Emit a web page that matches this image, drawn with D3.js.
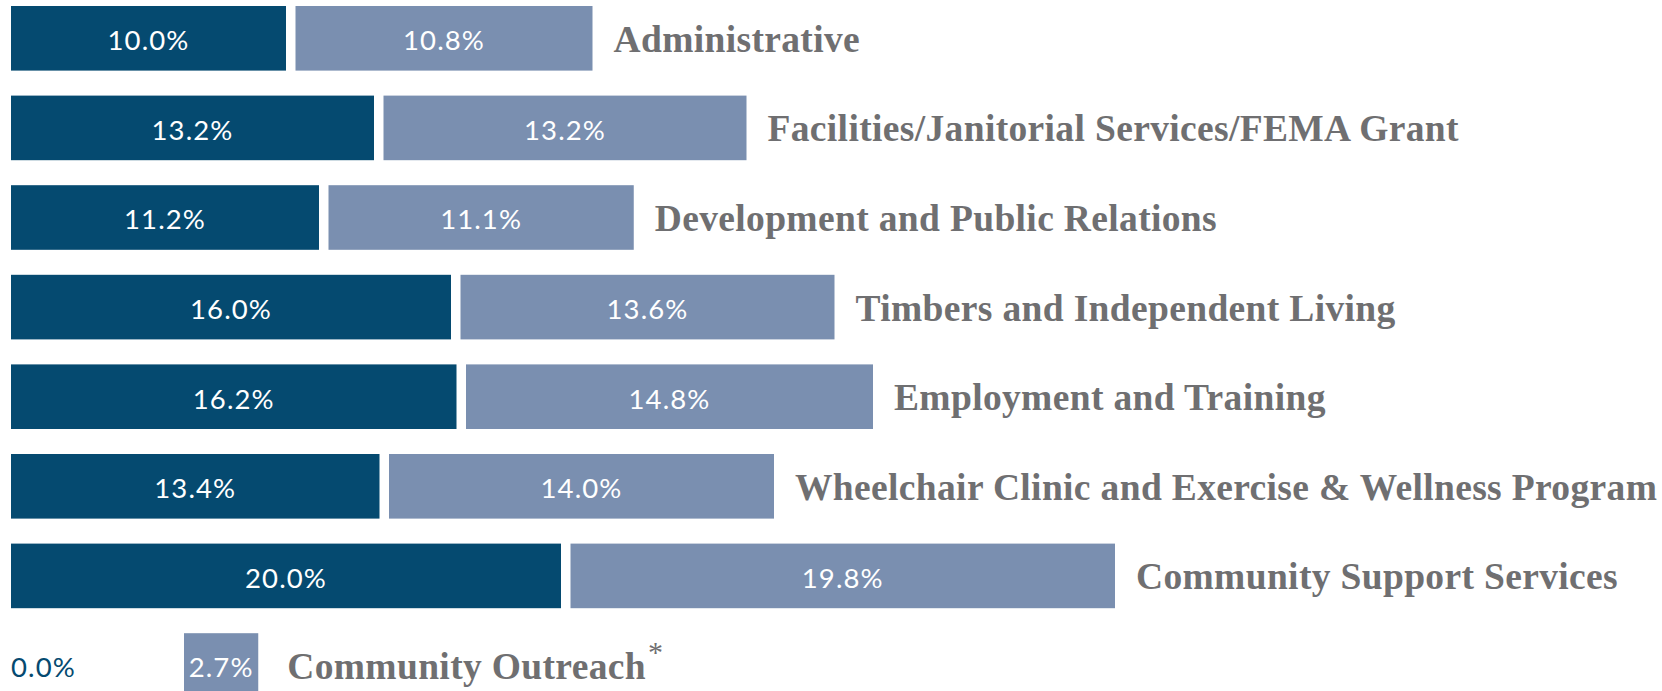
<!DOCTYPE html>
<html>
<head>
<meta charset="utf-8">
<script src="https://cdn.jsdelivr.net/npm/d3@7"></script>
<style>
  html, body { margin: 0; padding: 0; background: #ffffff; }
  svg { display: block; }
</style>
</head>
<body>
<svg id="chart" width="1662" height="691"></svg>
<script>
const categories = [
  "Administrative",
  "Facilities/Janitorial Services/FEMA Grant",
  "Development and Public Relations",
  "Timbers and Independent Living",
  "Employment and Training",
  "Wheelchair Clinic and Exercise & Wellness Program",
  "Community Support Services",
  "Community Outreach"
];
const seriesA = [10.0, 13.2, 11.2, 16.0, 16.2, 13.4, 20.0, 0.0];
const seriesB = [10.8, 13.2, 11.1, 13.6, 14.8, 14.0, 19.8, 2.7];
const footnoteMarks = ["", "", "", "", "", "", "", "*"];

const W = 1662, H = 691;
const left = 11;
const pxPerPct = 27.5;
const pairGap = 9.5;
const labelGap = 21;
const zeroSlot = 173;   // space reserved for a zero-value label
const darkColor = "#054a70";
const lightColor = "#7a8fb0";
const textGray = "#6f6f71";

const svg = d3.select("#chart");

const x = d3.scaleLinear().domain([0, 1]).range([0, pxPerPct]);

// band layout: step 89.6, bar height ~64.6, first bar top at 6
const step = 89.6, bh = 64.6, top0 = 6;
const y = d3.scaleBand()
  .domain(d3.range(categories.length))
  .range([top0, top0 + step * categories.length - (step - bh)])
  .paddingInner((step - bh) / step)
  .paddingOuter(0);

const rows = categories.map((c, i) => {
  const a = seriesA[i], b = seriesB[i];
  const aw = x(a);
  const bx = left + (a > 0 ? aw + pairGap : zeroSlot);
  const bw = x(b);
  return { c, a, b, aw, bx, bw, i, mark: footnoteMarks[i] };
});

const g = svg.append("g");

const row = g.selectAll("g.row").data(rows).enter().append("g")
  .attr("class", "row")
  .attr("transform", d => `translate(0,${y(d.i)})`);

const band = y.bandwidth();
const numFont = "Lato, 'Open Sans', sans-serif";

// dark bars
row.filter(d => d.a > 0).append("rect")
  .attr("x", left).attr("y", 0)
  .attr("width", d => d.aw).attr("height", band)
  .attr("fill", darkColor);

row.append("text")
  .attr("x", d => d.a > 0 ? left + d.aw / 2 : left)
  .attr("y", band / 2 + 12)
  .attr("text-anchor", d => d.a > 0 ? "middle" : "start")
  .attr("font-family", numFont)
  .attr("font-size", 27.5)
  .attr("letter-spacing", 1.1)
  .attr("fill", d => d.a > 0 ? "#ffffff" : darkColor)
  .text(d => d.a.toFixed(1) + "%");

// light bars
row.append("rect")
  .attr("x", d => d.bx).attr("y", 0)
  .attr("width", d => d.bw).attr("height", band)
  .attr("fill", lightColor);

row.append("text")
  .attr("x", d => d.bx + d.bw / 2)
  .attr("y", band / 2 + 12)
  .attr("text-anchor", "middle")
  .attr("font-family", numFont)
  .attr("font-size", 27.5)
  .attr("letter-spacing", 1.1)
  .attr("fill", "#ffffff")
  .text(d => d.b.toFixed(1) + "%");

// category labels
const lab = row.append("text")
  .attr("x", d => d.bx + d.bw + labelGap + (d.a > 0 ? 0 : 8))
  .attr("y", band / 2 + 13.5)
  .attr("font-family", "'Liberation Serif', 'Times New Roman', serif")
  .attr("font-weight", "bold")
  .attr("font-size", 37.5)
  .attr("letter-spacing", 0.35)
  .attr("fill", textGray);
lab.append("tspan").text(d => d.c);
lab.filter(d => d.mark).append("tspan")
  .attr("dy", -17)
  .attr("dx", 2)
  .attr("font-size", 30)
  .attr("font-weight", "normal")
  .text(d => d.mark);
</script>
</body>
</html>
